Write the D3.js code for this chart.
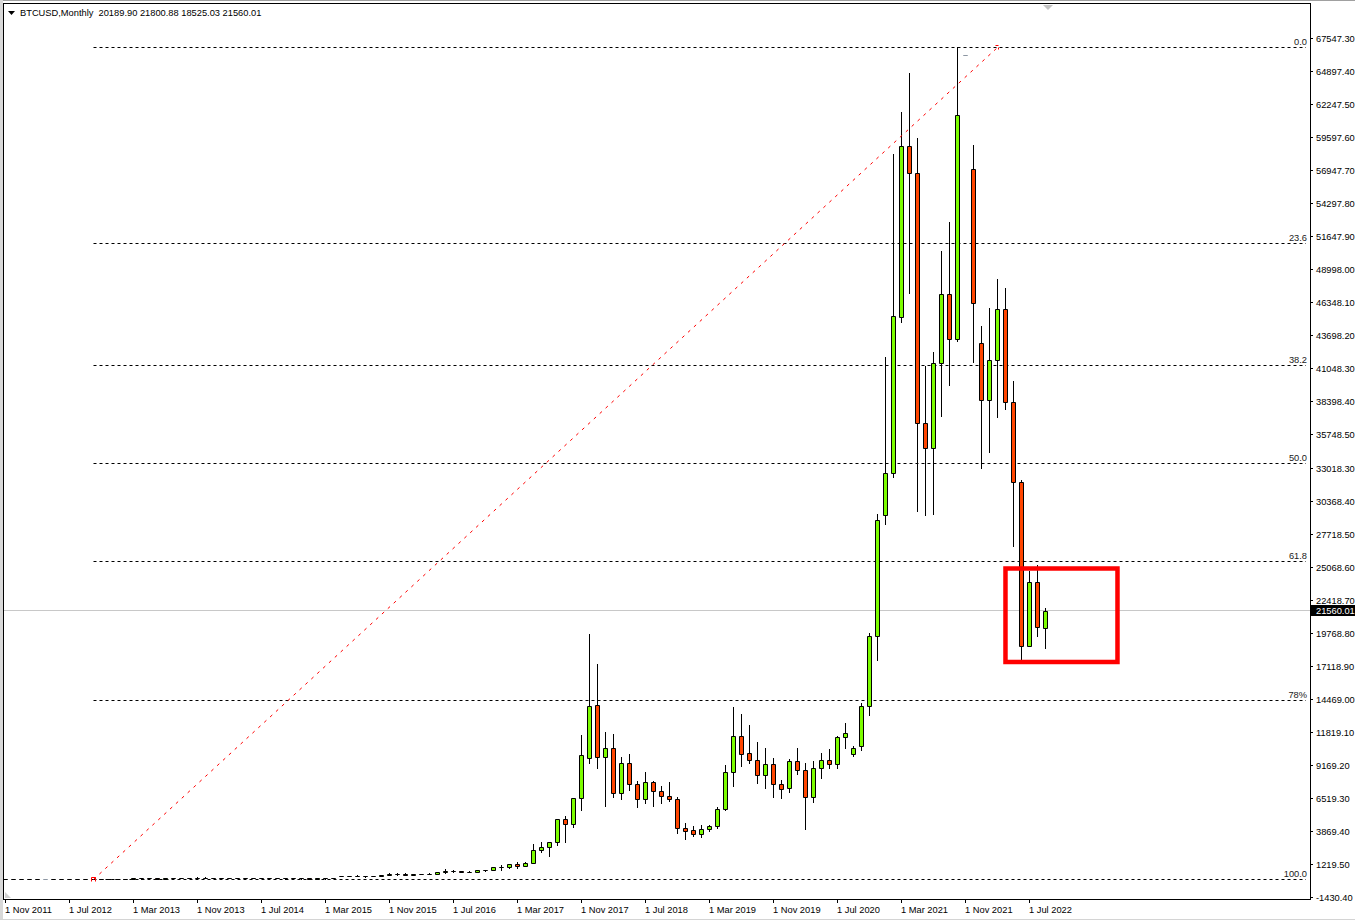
<!DOCTYPE html>
<html><head><meta charset="utf-8">
<script src="https://cdn.jsdelivr.net/npm/d3@7"></script>
<style>html,body{margin:0;padding:0;background:#fff;overflow:hidden}</style>
</head><body>
<svg id="c" width="1355" height="922"></svg>
<script>
const chartTitle = "BTCUSD,Monthly";
const lastOHLC = ["20189.90", "21800.88", "18525.03", "21560.01"];
const months = [
 "2011-11","2011-12",
 "2012-01","2012-02","2012-03","2012-04","2012-05","2012-06","2012-07","2012-08","2012-09","2012-10","2012-11","2012-12",
 "2013-01","2013-02","2013-03","2013-04","2013-05","2013-06","2013-07","2013-08","2013-09","2013-10","2013-11","2013-12",
 "2014-01","2014-02","2014-03","2014-04","2014-05","2014-06","2014-07","2014-08","2014-09","2014-10","2014-11","2014-12",
 "2015-01","2015-02","2015-03","2015-04","2015-05","2015-06","2015-07","2015-08","2015-09","2015-10","2015-11","2015-12",
 "2016-01","2016-02","2016-03","2016-04","2016-05","2016-06","2016-07","2016-08","2016-09","2016-10","2016-11","2016-12",
 "2017-01","2017-02","2017-03","2017-04","2017-05","2017-06","2017-07","2017-08","2017-09","2017-10","2017-11","2017-12",
 "2018-01","2018-02","2018-03","2018-04","2018-05","2018-06","2018-07","2018-08","2018-09","2018-10","2018-11","2018-12",
 "2019-01","2019-02","2019-03","2019-04","2019-05","2019-06","2019-07","2019-08","2019-09","2019-10","2019-11","2019-12",
 "2020-01","2020-02","2020-03","2020-04","2020-05","2020-06","2020-07","2020-08","2020-09","2020-10","2020-11","2020-12",
 "2021-01","2021-02","2021-03","2021-04","2021-05","2021-06","2021-07","2021-08","2021-09","2021-10","2021-11","2021-12",
 "2022-01","2022-02","2022-03","2022-04","2022-05","2022-06","2022-07","2022-08","2022-09"
];
const opens = [
 3.25,2.97,
 4.72,5.5,4.87,4.92,4.95,5.17,6.7,9.35,10.2,12.4,11.2,12.6,
 13.5,20.4,33.4,48,52,50,45,50,55,58,65,120,
 85,80,70,66,64,76,78,72,62,54,50,56,
 50,40,48,55,236,230,263,284,230,236,311,377,
 430,368,437,416,448,531,673,624,575,609,698,742,
 963,970,1190,1080,1330,2300,2550,2950,4800,4400,6490,9700,
 13960,9785,10505,6890,9300,7615,6410,7775,7050,6650,6410,4080,
 3920,3600,4000,4240,5605,8580,11470,10100,9540,8340,9220,7615,
 7295,9485,8740,6570,8900,9540,9220,11390,10025,10715,13880,19520,
 29225,32625,45175,58890,56695,36615,34605,41435,47000,43360,66200,57015,
 43040,38485,41700,45770,38300,31875,18750,23840,20189.90
];
const highs = [
 3.5,4.8,
 7.38,6.3,5.4,5.25,5.2,6.8,9.6,16.4,12.9,12.5,12.8,13.6,
 20.5,33.6,55,70,60,55,55,60,62,70,140,135,
 95,88,78,72,80,82,82,74,66,58,60,60,
 52,52,60,70,247,268,318,285,244,330,502,466,
 462,446,439,468,548,780,704,626,610,714,755,975,
 1150,1200,1350,1350,2800,2980,3000,4800,5070,6500,11575,19690,
 17255,11790,11630,9810,10025,7880,8580,7855,7480,7775,6620,4505,
 4240,4345,4320,5815,9165,13800,13260,12380,11010,10530,9705,7960,
 9645,10505,9325,9485,10130,10450,11495,12540,10690,14120,19770,29330,
 41965,58240,61645,64775,59530,41215,42340,50480,52810,66865,66200,58970,
 44430,45900,48205,47460,39990,32060,24750,25230,21800.88
];
const lows = [
 2.0,2.8,
 4.6,4.3,4.65,4.8,4.9,5.1,6.5,7.1,10.1,10,10.5,12.4,
 13.2,19.6,33,40,45,40,40,48,50,55,60,70,
 75,65,62,60,62,72,70,60,50,45,48,46,
 35,38,45,50,225,218,253,198,225,235,305,350,
 355,366,398,412,436,528,603,530,572,604,685,740,
 752,915,890,1070,1320,2200,1880,2700,3000,4210,5550,9350,
 8900,5895,6570,6410,7160,5815,6090,5895,6135,6250,3725,3245,
 3485,3405,3840,4130,5560,7500,9110,9350,7745,7340,6620,6540,
 6970,8465,4050,6220,8145,8900,8950,10555,9890,10370,13205,17600,
 28525,32300,44775,47055,29595,29225,29305,37225,39665,43250,66200,41535,
 33000,34330,37145,37740,26780,17655,18700,19530,18525.03
];
const closes = [
 2.97,4.72,
 5.5,4.87,4.92,4.92,5.17,6.7,9.35,10.2,12.4,11.2,12.6,13.5,
 20.4,33.4,48,52,50,45,50,55,58,65,120,85,
 80,70,66,64,76,78,72,62,54,50,56,50,
 40,48,55,65,230,263,284,230,236,311,377,430,
 368,437,416,448,531,673,624,575,609,698,742,963,
 970,1190,1080,1330,2300,2550,2950,4800,4400,6490,9945,13880,
 9785,10505,6890,9300,7615,6410,7775,7050,6650,6410,4080,3840,
 3600,4000,4240,5605,8580,11470,10070,9540,8340,9220,7615,7215,
 9485,8740,6570,8900,9540,9220,11390,11710,10505,13880,19520,28845,
 32600,45225,58890,56695,36615,34605,41435,47000,43360,61355,66200,46250,
 38485,41700,45770,38300,31875,18750,23840,20225,21560.01
];
const priceTickLabels = ["67547.30","64897.40","62247.50","59597.60","56947.70","54297.80","51647.90",
 "48998.00","46348.10","43698.20","41048.30","38398.40","35748.50","33018.30","30368.40","27718.50",
 "25068.60","22418.70","19768.80","17118.90","14469.00","11819.10","9169.20","6519.30","3869.40",
 "1219.50","-1430.40"];
const timeTickMonths = ["2011-11","2012-07","2013-03","2013-11","2014-07","2015-03","2015-11","2016-07",
 "2017-03","2017-11","2018-07","2019-03","2019-11","2020-07","2021-03","2021-11","2022-07"];
const timeTickLabels = ["1 Nov 2011","1 Jul 2012","1 Mar 2013","1 Nov 2013","1 Jul 2014","1 Mar 2015",
 "1 Nov 2015","1 Jul 2016","1 Mar 2017","1 Nov 2017","1 Jul 2018","1 Mar 2019","1 Nov 2019",
 "1 Jul 2020","1 Mar 2021","1 Nov 2021","1 Jul 2022"];
const fibLevels = [0, 23.6, 38.2, 50, 61.8, 78.5, 100];
const fibLabels = ["0.0", "23.6", "38.2", "50.0", "61.8", "78%", "100.0"];
const fibLowMonth = "2012-10", fibLowPrice = 10;
const fibHighMonth = "2022-03", fibHighPrice = 66840;
const bidPrice = 21560.01;
const boxIndexRange = [125.06, 139.06];
const boxPriceRange = [24950, 17440];

const svg = d3.select("#c");
const FONT = "'Liberation Sans', Arial, sans-serif";
const FS = "9.3px";
const L = 4, R = 1310, T = 4, B = 899;

const x = d3.scaleLinear().domain([-0.125, 163.125]).range([L, R]);
const y = d3.scaleLinear().domain([-1599.1, 70296.2]).range([B, T]);
const px = i => Math.round(x(i)) + 0.5;
const py = v => Math.round(y(v)) + 0.5;
const idx = m => months.indexOf(m);

// window chrome
svg.append("rect").attr("x",0).attr("y",0).attr("width",1355).attr("height",922).attr("fill","#fff");
svg.append("line").attr("x1",0).attr("x2",1355).attr("y1",0.5).attr("y2",0.5).attr("stroke","#a0a0a0");
svg.append("rect").attr("x",0).attr("y",0).attr("width",3).attr("height",920).attr("fill","#d8d8d8");
svg.append("line").attr("x1",0).attr("x2",1355).attr("y1",919.5).attr("y2",919.5).attr("stroke","#d4d4d4");

const plot = svg.append("g");

// bid line
plot.append("line").attr("x1",L).attr("x2",R).attr("y1",Math.floor(y(bidPrice))+0.5).attr("y2",Math.floor(y(bidPrice))+0.5)
  .attr("stroke","#c8c8c8").attr("stroke-width",1);

// fibonacci levels
const fx0 = px(idx(fibLowMonth));
fibLevels.forEach((lv, k) => {
  const price = fibHighPrice - lv / 100 * (fibHighPrice - fibLowPrice);
  const yy = py(price);
  plot.append("line").attr("x1", fx0).attr("x2", R - 4).attr("y1", yy).attr("y2", yy)
    .attr("stroke", "#000").attr("stroke-width", 1).attr("stroke-dasharray", "3,3");
  plot.append("text").attr("x", R - 3).attr("y", yy - 2.5).attr("text-anchor", "end")
    .attr("font-family", FONT).attr("font-size", FS).attr("fill", "#1a1a1a").text(fibLabels[k]);
});

// candles
const data = months.map((m, i) => ({i, o: opens[i], h: highs[i], l: lows[i], c: closes[i]}));
const cg = plot.append("g");
data.forEach(d => {
  const cx = px(d.i);
  const doji = d.o === d.c;
  const col = doji ? "#8c96a2" : "#000";
  const yh = Math.round(y(d.h)), yl = Math.round(y(d.l));
  const yo = py(d.o), yc = py(d.c);
  const top = Math.min(yo, yc), bot = Math.max(yo, yc);
  if (yl - yh > 0) {
    cg.append("line").attr("x1", cx).attr("x2", cx).attr("y1", yh).attr("y2", yl + 1)
      .attr("stroke", col).attr("stroke-width", 1);
  }
  cg.append("path")
    .attr("d", `M${cx-2},${top}H${cx+2}V${bot}H${cx-2}Z`)
    .attr("fill", doji ? "none" : (d.c > d.o ? "#7CFC00" : "#FF4500"))
    .attr("stroke", col).attr("stroke-width", 1);
});

// fib trend line
const tX1 = px(idx(fibLowMonth)), tY1 = py(fibLowPrice);
const tX2 = px(idx(fibHighMonth)), tY2 = py(fibHighPrice);
plot.append("line").attr("x1", tX1).attr("y1", tY1).attr("x2", tX2).attr("y2", tY2)
  .attr("stroke", "#ff0000").attr("stroke-width", 1).attr("stroke-dasharray", "3,5");
plot.append("path").attr("d", `M${tX1-2},${tY1+2}V${tY1-2}H${tX1+2}V${tY1+2}`).attr("fill","none").attr("stroke","#ff0000");
plot.append("path").attr("d", `M${tX2-2},${tY2-2}H${tX2+1}M${tX2+1},${tY2}V${tY2+2}`).attr("fill","none").attr("stroke","#ff0000");

// highlight box
plot.append("rect")
  .attr("x", x(boxIndexRange[0])).attr("y", y(boxPriceRange[0]))
  .attr("width", x(boxIndexRange[1]) - x(boxIndexRange[0]))
  .attr("height", y(boxPriceRange[1]) - y(boxPriceRange[0]))
  .attr("fill", "none").attr("stroke", "#ff0000").attr("stroke-width", 4.5);

// frame
svg.append("rect").attr("x", L - 0.5).attr("y", T - 0.5).attr("width", R - L + 1).attr("height", B - T + 1)
  .attr("fill", "none").attr("stroke", "#000").attr("stroke-width", 1);

// chart shift markers
svg.append("path").attr("d", "M1043,5H1053L1048,10Z").attr("fill", "#c4c4c4");
svg.append("path").attr("d", "M5,892L5,898L11,898Z").attr("fill", "#d0d0d0");

// price axis
const pa = svg.append("g");
priceTickLabels.forEach(t => {
  const v = +t;
  const yy = Math.round(y(v)) + 0.5;
  pa.append("line").attr("x1", R).attr("x2", R + 3).attr("y1", yy).attr("y2", yy).attr("stroke", "#000");
  pa.append("text").attr("x", R + 6).attr("y", yy).attr("dy", "0.35em")
    .attr("font-family", FONT).attr("font-size", FS).attr("fill", "#000").text(t);
});
const by = Math.floor(y(bidPrice));
pa.append("rect").attr("x", R + 1).attr("y", by - 5).attr("width", 1355 - R - 1).attr("height", 11).attr("fill", "#000");
pa.append("text").attr("x", R + 6).attr("y", by + 0.5).attr("dy", "0.35em")
  .attr("font-family", FONT).attr("font-size", FS).attr("fill", "#fff").text(lastOHLC[3]);

// time axis
const ta = svg.append("g");
timeTickMonths.forEach((m, k) => {
  const xx = px(idx(m));
  ta.append("line").attr("x1", xx).attr("x2", xx).attr("y1", B).attr("y2", B + 4).attr("stroke", "#000");
  ta.append("text").attr("x", xx - 0.5).attr("y", 913)
    .attr("font-family", FONT).attr("font-size", FS).attr("fill", "#000").text(timeTickLabels[k]);
});

// title
svg.append("path").attr("d", "M8,11H15L11.5,15Z").attr("fill", "#000");
svg.append("text").attr("x", 20).attr("y", 16).attr("font-family", FONT).attr("font-size", FS).attr("fill", "#000")
  .attr("xml:space", "preserve")
  .text(chartTitle + "  " + lastOHLC.join(" "));
</script>
</body></html>
